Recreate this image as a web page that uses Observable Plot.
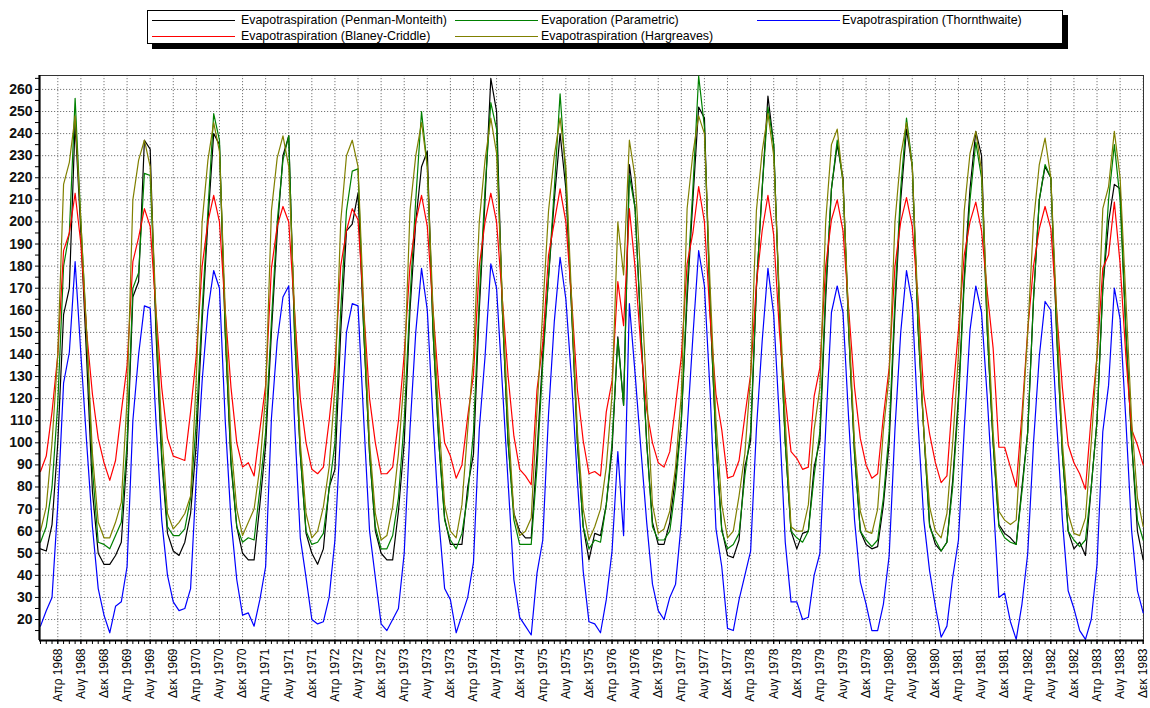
<!DOCTYPE html>
<html><head><meta charset="utf-8">
<script src="https://cdn.jsdelivr.net/npm/d3@7"></script>
<script src="https://cdn.jsdelivr.net/npm/@observablehq/plot@0.6"></script>
<style>
body{margin:0;background:#fff;font-family:"Liberation Sans",Arial,sans-serif;}
#wrap{position:relative;width:1150px;height:708px;overflow:hidden;}
#legend{position:absolute;left:147px;top:10px;width:914px;height:32px;border:1px solid #000;box-shadow:5px 5px 0 #000;background:#fff;font-size:12.4px;color:#000;}
.li{position:absolute;white-space:nowrap;}
.ln{position:absolute;height:0;border-top:1.3px solid;}
#chart{position:absolute;left:0;top:0;}
</style></head>
<body><div id="wrap"><div id="chart"></div><div id="legend"></div></div>
<script>
const seriesNames = ["Evapotraspiration (Penman-Monteith)","Evaporation (Parametric)","Evapotraspiration (Thornthwaite)","Evapotraspiration (Blaney-Criddle)","Evapotraspiration (Hargreaves)"];
const seriesColors = ["#000000","#008000","#0000ff","#ff0000","#808000"];
const monthAbbr = ["Ιαν","Φεβ","Μαρ","Απρ","Μαϊ","Ιουν","Ιουλ","Αυγ","Σεπ","Οκτ","Νοε","Δεκ"];
const years = [1968,1969,1970,1971,1972,1973,1974,1975,1976,1977,1978,1979,1980,1981,1982,1983];
const yTicks = [20,30,40,50,60,70,80,90,100,110,120,130,140,150,160,170,180,190,200,210,220,230,240,250,260];

const penmanMonteith = [
52,51,63,100,158,170,245,195,138,78,50,45,
45,49,55,95,166,173,237,233,150,92,59,51,
49,55,68,100,155,200,240,235,150,90,62,50,
47,47,72,99,150,195,230,239,150,95,59,50,
45,52,80,88,150,196,199,213,150,95,60,50,
47,47,69,100,160,200,225,232,150,100,66,54,
54,54,80,95,160,210,265,250,160,100,68,60,
57,57,95,140,175,210,240,215,160,100,62,47,
59,58,72,97,148,117,226,206,150,100,64,54,
54,64,85,110,165,210,252,247,160,100,61,49,
48,56,89,101,170,215,257,235,160,100,60,52,
59,60,89,101,165,215,235,220,150,95,60,54,
52,53,72,100,160,210,242,225,152,105,63,54,
51,55,83,121,175,215,241,230,150,100,63,59,
57,54,80,105,165,210,225,220,150,95,60,52,
55,49,80,110,170,200,217,215,150,100,60,47];
const parametric = [
55,62,80,118,180,195,256,200,148,88,55,54,
52,58,64,100,170,177,222,221,155,95,62,58,
58,61,75,110,160,205,249,237,150,92,62,55,
57,56,79,105,155,200,228,239,150,95,60,54,
55,59,79,100,160,205,223,224,150,95,62,52,
52,58,75,110,165,210,250,225,150,100,65,56,
52,59,76,105,165,215,254,242,160,100,65,54,
54,54,89,136,175,215,258,220,160,100,62,52,
56,55,72,100,147,117,221,206,150,100,62,56,
56,60,80,110,170,215,266,243,160,100,60,52,
54,59,85,105,170,215,252,235,160,100,60,57,
55,60,85,105,170,215,237,218,150,95,60,56,
53,56,75,105,165,215,247,226,152,105,62,56,
51,55,80,118,172,210,236,220,150,100,62,57,
55,54,78,105,165,210,226,220,150,95,60,56,
53,56,80,110,170,210,235,210,150,100,65,56];
const thornthwaite = [
17,24,30,72,127,141,182,140,100,62,34,22,
14,26,28,44,110,140,162,161,110,65,40,28,
24,25,34,85,128,160,178,170,110,65,38,22,
23,17,29,44,111,146,166,171,110,57,39,20,
18,19,30,56,106,150,163,162,110,60,39,18,
15,20,25,50,106,150,179,160,110,65,34,29,
14,22,30,46,106,139,181,170,126,82,38,21,
17,13,41,56,113,155,184,165,128,83,42,19,
18,14,29,51,96,58,163,131,97,64,36,24,
20,30,36,64,106,148,187,171,122,61,44,16,
15,29,40,51,106,146,179,158,110,55,28,28,
20,21,40,50,106,159,171,159,110,65,37,27,
15,15,27,49,106,150,178,163,109,65,42,26,
12,17,39,56,106,151,171,159,120,75,30,32,
19,11,27,50,100,139,164,160,110,65,33,25,
15,11,20,45,105,126,170,156,110,60,33,23];
const blaneyCriddle = [
87,94,114,140,187,195,213,190,150,122,102,91,
83,92,114,135,182,193,206,198,160,125,102,94,
93,92,114,140,180,200,212,200,160,125,100,89,
91,85,106,126,179,198,207,200,160,120,100,88,
86,89,110,135,180,196,206,201,160,120,100,86,
86,89,110,140,180,200,212,198,160,125,100,94,
84,90,112,131,180,200,213,200,165,130,103,88,
85,81,124,145,185,200,215,200,165,124,101,86,
87,85,114,128,173,153,206,179,143,115,100,91,
89,96,117,139,181,195,216,200,156,122,106,84,
85,92,112,131,172,196,212,194,150,120,96,93,
88,89,121,134,180,201,210,196,160,125,102,90,
84,86,112,134,180,200,211,198,165,122,104,91,
82,85,121,151,185,200,209,196,168,143,98,98,
89,80,113,151,180,197,207,197,160,125,99,91,
86,79,112,139,179,185,209,181,139,106,99,90];
const hargreaves = [
60,71,100,140,217,227,248,200,150,95,64,57,
57,64,73,120,210,228,237,225,160,105,68,61,
64,68,76,130,200,228,245,232,160,100,70,58,
64,70,89,122,205,229,239,225,160,100,68,57,
60,71,89,125,200,230,237,225,160,100,68,56,
58,71,95,130,205,230,245,225,160,110,72,60,
57,72,106,139,200,228,247,231,165,110,68,58,
60,66,115,160,205,230,247,225,165,105,70,56,
62,70,89,122,200,176,237,220,173,122,72,59,
61,69,89,122,206,231,248,240,170,110,72,57,
60,76,95,130,205,232,249,230,165,110,62,60,
60,72,106,125,200,235,242,218,155,100,69,60,
59,70,106,130,200,230,245,225,160,105,71,60,
57,68,100,140,205,231,241,223,160,105,69,65,
63,65,108,150,200,226,238,220,160,100,68,59,
58,66,100,140,206,216,241,220,165,110,75,62];

const allSeries = [penmanMonteith, parametric, thornthwaite, blaneyCriddle, hargreaves];
const data = [];
allSeries.forEach((arr, s) => arr.forEach((v, i) => data.push({i, v, s: seriesNames[s]})));

const nMonths = years.length * 12;
const labelIdx = d3.range(3, nMonths, 4);
const monthLabel = i => monthAbbr[i % 12] + " " + years[Math.floor(i / 12)];
const x0 = -0.17, x1 = nMonths - 0.95;
const y0 = 10.5, y1 = 266.3;

const chart = Plot.plot({
  width: 1150, height: 708,
  marginLeft: 39, marginRight: 7, marginTop: 75, marginBottom: 68,
  style: {fontFamily: "'Liberation Sans', Arial, sans-serif", background: "#fff"},
  x: {domain: [x0, x1], axis: null},
  y: {domain: [y0, y1], axis: null},
  color: {domain: seriesNames, range: seriesColors},
  marks: [
    Plot.gridY(yTicks, {stroke: "#777", strokeOpacity: 1, strokeDasharray: "1.2,1.8", strokeWidth: 1}),
    Plot.gridX(labelIdx, {stroke: "#777", strokeOpacity: 1, strokeDasharray: "1.2,1.8", strokeWidth: 1}),
    Plot.frame({stroke: "#333", strokeWidth: 1}),
    Plot.line(data, {x: "i", y: "v", z: "s", stroke: "s", strokeWidth: 1.2}),
    Plot.axisY({ticks: d3.range(15, 266, 5), tickSize: 4, tickPadding: 3, tickFormat: d => d % 10 === 0 ? d : "", fontSize: 14, label: null}),
    Plot.axisX({ticks: d3.range(0, nMonths), tickSize: 4, tickFormat: () => "", label: null}),
    Plot.axisX({ticks: labelIdx, tickSize: 4, tickPadding: 4, tickRotate: -90, tickFormat: monthLabel, fontSize: 12, label: null}),
    Plot.ruleX([x0], {stroke: "#000", strokeWidth: 2.2}),
    Plot.ruleY([y0], {stroke: "#000", strokeWidth: 2.2})
  ]
});
d3.select(chart).selectAll('[aria-label="y-axis tick label"] text').attr("font-weight", "bold").attr("fill", "#111");
document.getElementById("chart").appendChild(chart);

// legend
const legend = document.getElementById("legend");
const cols = [[4, 93], [307, 393], [609, 694]];
const rowsY = [9, 25];
seriesNames.forEach((name, k) => {
  const col = cols[k % 3], row = rowsY[Math.floor(k / 3)];
  const ln = document.createElement("div");
  ln.className = "ln";
  ln.style.left = col[0] + "px"; ln.style.width = "83px"; ln.style.top = row + "px";
  ln.style.borderTopColor = seriesColors[k];
  legend.appendChild(ln);
  const t = document.createElement("div");
  t.className = "li"; t.textContent = name;
  t.style.left = col[1] + "px"; t.style.top = (row - 7) + "px";
  legend.appendChild(t);
});
</script></body></html>
